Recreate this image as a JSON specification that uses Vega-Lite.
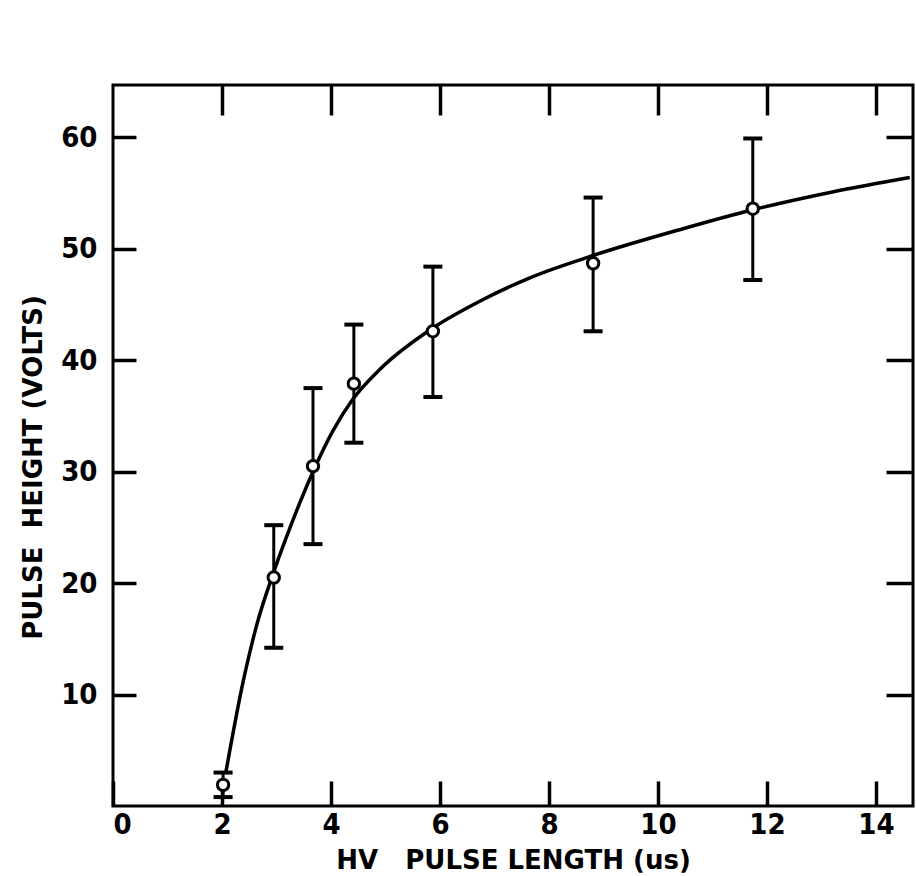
{
  "$schema": "https://vega.github.io/schema/vega-lite/v6.json",
  "autosize": {"type": "none"},
  "padding": {"left": 113, "top": 85, "right": 3, "bottom": 70},
  "width": 800,
  "height": 721,
  "background": "white",
  "config": {
    "view": {"stroke": "black", "strokeWidth": 3},
    "axis": {
      "domain": false,
      "grid": false,
      "tickColor": "black",
      "tickWidth": 3.5,
      "labelColor": "black",
      "titleColor": "black",
      "labelFont": "DejaVu Sans Condensed",
      "titleFont": "DejaVu Sans",
      "labelFontSize": 29,
      "labelFontWeight": "bold",
      "titleFontSize": 26,
      "titleFontWeight": "bold"
    }
  },
  "datasets": {
    "curve": [
      {"x": 2.07, "y": 3.0},
      {"x": 2.39, "y": 11.2},
      {"x": 2.64, "y": 16.3},
      {"x": 2.95, "y": 21.0},
      {"x": 3.25, "y": 25.0},
      {"x": 3.67, "y": 30.0},
      {"x": 4.04, "y": 33.7},
      {"x": 4.4, "y": 36.5},
      {"x": 4.9, "y": 39.2},
      {"x": 5.87, "y": 42.9},
      {"x": 6.73, "y": 45.3},
      {"x": 7.65, "y": 47.4},
      {"x": 8.81, "y": 49.4},
      {"x": 10.46, "y": 51.8},
      {"x": 11.74, "y": 53.5},
      {"x": 13.2, "y": 55.1},
      {"x": 14.62, "y": 56.4}
    ],
    "points": [
      {"x": 2.02, "y": 1.9, "lo": 0.8, "hi": 3.0},
      {"x": 2.95, "y": 20.5, "lo": 14.2, "hi": 25.2},
      {"x": 3.67, "y": 30.5, "lo": 23.5, "hi": 37.5},
      {"x": 4.42, "y": 37.9, "lo": 32.6, "hi": 43.2},
      {"x": 5.87, "y": 42.6, "lo": 36.7, "hi": 48.4},
      {"x": 8.81, "y": 48.7, "lo": 42.6, "hi": 54.6},
      {"x": 11.74, "y": 53.6, "lo": 47.2, "hi": 59.9}
    ]
  },
  "resolve": {"axis": {"x": "independent", "y": "independent"}},
  "layer": [
    {
      "data": {"name": "curve"},
      "mark": {"type": "line", "color": "black", "strokeWidth": 3.5, "interpolate": "monotone"},
      "encoding": {
        "x": {
          "field": "x", "type": "quantitative",
          "scale": {"domain": [0, 14.68], "nice": false, "zero": false},
          "axis": {
            "orient": "bottom",
            "values": [0, 2, 4, 6, 8, 10, 12, 14],
            "tickSize": -25,
            "labelPadding": 29,
            "title": "HV\u00a0\u00a0\u00a0PULSE LENGTH (us)",
            "titleBaseline": "middle",
            "titleY": 54
          }
        },
        "y": {
          "field": "y", "type": "quantitative",
          "scale": {"domain": [0, 64.7], "nice": false, "zero": false},
          "axis": {
            "orient": "left",
            "values": [10, 20, 30, 40, 50, 60],
            "tickSize": -23,
            "labelPadding": 39,
            "title": "PULSE\u00a0\u00a0HEIGHT (VOLTS)",
            "titleBaseline": "middle",
            "titleX": -80,
            "titleY": 382
          }
        }
      }
    },
    {
      "data": {"name": "points"},
      "mark": {"type": "rule", "color": "black", "strokeWidth": 3},
      "encoding": {
        "x": {
          "field": "x", "type": "quantitative",
          "scale": {"domain": [0, 14.68], "nice": false, "zero": false},
          "axis": {"orient": "top", "values": [2, 4, 6, 8, 10, 12, 14], "tickSize": -30, "labels": false, "title": null}
        },
        "y": {
          "field": "lo", "type": "quantitative",
          "scale": {"domain": [0, 64.7], "nice": false, "zero": false},
          "axis": {"orient": "right", "values": [10, 20, 30, 40, 50, 60], "tickSize": -27, "labels": false, "title": null}
        },
        "y2": {"field": "hi"}
      }
    },
    {
      "data": {"name": "points"},
      "mark": {"type": "tick", "orient": "horizontal", "size": 19, "thickness": 4, "color": "black", "opacity": 1},
      "encoding": {
        "x": {"field": "x", "type": "quantitative", "scale": {"domain": [0, 14.68], "nice": false, "zero": false}, "axis": null},
        "y": {"field": "lo", "type": "quantitative", "scale": {"domain": [0, 64.7], "nice": false, "zero": false}, "axis": null}
      }
    },
    {
      "data": {"name": "points"},
      "mark": {"type": "tick", "orient": "horizontal", "size": 19, "thickness": 4, "color": "black", "opacity": 1},
      "encoding": {
        "x": {"field": "x", "type": "quantitative", "scale": {"domain": [0, 14.68], "nice": false, "zero": false}, "axis": null},
        "y": {"field": "hi", "type": "quantitative", "scale": {"domain": [0, 64.7], "nice": false, "zero": false}, "axis": null}
      }
    },
    {
      "data": {"name": "points"},
      "mark": {"type": "point", "shape": "circle", "size": 130, "filled": false, "fill": "white", "fillOpacity": 1, "stroke": "black", "strokeWidth": 3, "opacity": 1},
      "encoding": {
        "x": {"field": "x", "type": "quantitative", "scale": {"domain": [0, 14.68], "nice": false, "zero": false}, "axis": null},
        "y": {"field": "y", "type": "quantitative", "scale": {"domain": [0, 64.7], "nice": false, "zero": false}, "axis": null}
      }
    }
  ]
}
